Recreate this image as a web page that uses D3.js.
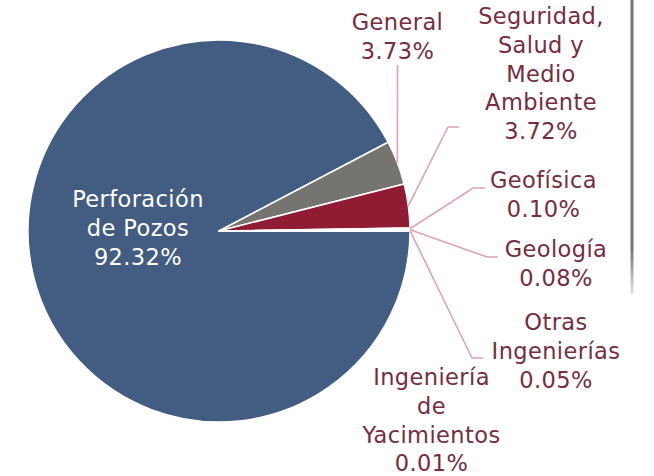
<!DOCTYPE html>
<html>
<head>
<meta charset="utf-8">
<script src="https://cdn.jsdelivr.net/npm/d3@7"></script>
<style>
  body { margin: 0; background: #fff; }
  svg { display: block; }
  text { font-family: "DejaVu Sans", sans-serif; }
</style>
</head>
<body>
<div id="chart"></div>
<script>
// datos
const categories = ["Perforación de Pozos", "General", "Seguridad, Salud y Medio Ambiente", "Geofísica", "Geología", "Otras Ingenierías", "Ingeniería de Yacimientos"];
const values = [92.32, 3.73, 3.72, 0.10, 0.08, 0.05, 0.01];
const labelLines = [
    ["Perforación", "de Pozos"],
    ["General"],
    ["Seguridad,", "Salud y", "Medio", "Ambiente"],
    ["Geofísica"],
    ["Geología"],
    ["Otras", "Ingenierías"],
    ["Ingeniería", "de", "Yacimientos"]
];
const colors = ["#435d82", "#767471", "#8f1c32", "#8f1c32", "#435d82", "#767471", "#8f1c32"];

(() => {
    const width = 654, height = 476;
    const cx = 219, cy = 231, r = 191;
    const lineH = 28.8;

    // layout de etiquetas: centro x, baseline de la primera linea, codo de la guia
    const layout = [
        { x: 138, y: 207, color: "#fff" },
        { x: 397.5, y: 30, leader: [[397.5, 65]] },
        { x: 541, y: 24, leader: [[459, 127], [448, 127]] },
        { x: 543.5, y: 188, leader: [[485, 188], [473, 188]] },
        { x: 556, y: 257, leader: [[498, 257], [487, 257]] },
        { x: 556, y: 330, leader: [[483, 358], [472, 358]] },
        { x: 431.5, y: 385 }
    ];

    const data = categories.map((c, i) => ({ cat: c, value: values[i], lines: labelLines[i], i }));

    const pie = d3.pie()
        .value(d => d.value)
        .sort(null)
        .startAngle(Math.PI / 2)
        .endAngle(Math.PI / 2 + 2 * Math.PI);

    const arcs = pie(data);
    const arc = d3.arc().innerRadius(0).outerRadius(r);
    const edge = d3.arc().innerRadius(r).outerRadius(r);

    const svg = d3.select("#chart").append("svg")
        .attr("width", width)
        .attr("height", height);

    const grad = svg.append("defs").append("linearGradient")
        .attr("id", "fade")
        .attr("x1", 0).attr("x2", 0).attr("y1", 0).attr("y2", 1);
    grad.append("stop").attr("offset", "0.85").attr("stop-color", "#777").attr("stop-opacity", 1);
    grad.append("stop").attr("offset", "1").attr("stop-color", "#777").attr("stop-opacity", 0.2);

    // borde gris de la derecha
    svg.append("rect")
        .attr("x", 630.5).attr("y", 0)
        .attr("width", 3).attr("height", 294)
        .attr("fill", "url(#fade)");

    const g = svg.append("g").attr("transform", `translate(${cx},${cy})`);

    g.selectAll(".slice")
        .data(arcs)
        .enter()
        .append("path")
        .attr("class", "slice")
        .attr("d", arc)
        .attr("fill", d => colors[d.data.i])
        .attr("stroke", "#fff")
        .attr("stroke-width", 1.5)
        .attr("stroke-linejoin", "round");

    // guias
    const line = d3.line();
    arcs.forEach(d => {
        const L = layout[d.data.i];
        if (!L.leader) return;
        const [ex, ey] = edge.centroid(d);
        const pts = L.leader.concat([[ex + cx, ey + cy]]);
        svg.append("path")
            .attr("d", line(pts))
            .attr("fill", "none")
            .attr("stroke", "#e0a3b3")
            .attr("stroke-width", 1.6);
    });

    // etiquetas
    arcs.forEach(d => {
        const L = layout[d.data.i];
        const lines = d.data.lines.concat([d.data.value.toFixed(2) + "%"]);
        const t = svg.append("text")
            .attr("text-anchor", "middle")
            .style("font-size", "22.5px")
            .style("letter-spacing", "0.4px")
            .style("fill", L.color || "#762d3f");
        lines.forEach((s, k) => {
            t.append("tspan")
                .attr("x", L.x)
                .attr("y", L.y + k * lineH)
                .text(s);
        });
    });
})();
</script>
</body>
</html>
